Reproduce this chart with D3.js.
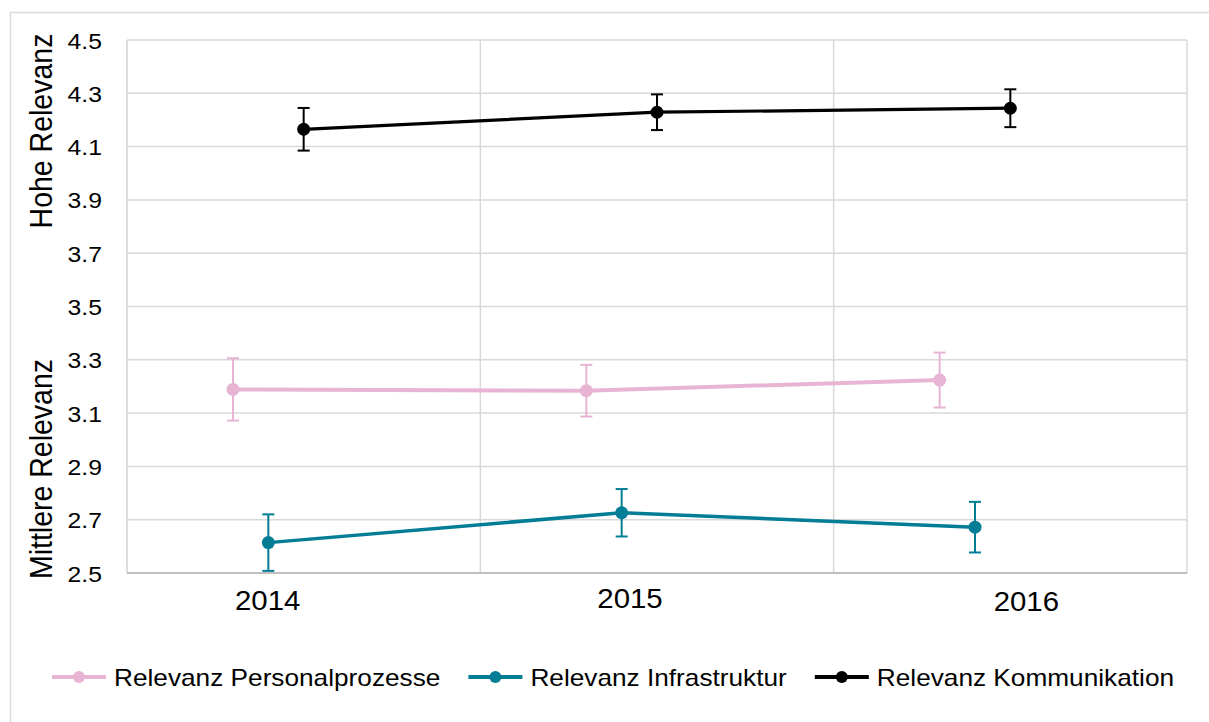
<!DOCTYPE html>
<html>
<head>
<meta charset="utf-8">
<script src="https://cdn.jsdelivr.net/npm/d3@7"></script>
<style>
  html, body { margin: 0; padding: 0; background: #fff; }
  svg { display: block; font-family: "Liberation Sans", Arial, sans-serif; }
</style>
</head>
<body>
<svg id="chart" width="1209" height="722"></svg>
<script>
// ---- data ----
const years = ["2014", "2015", "2016"];
const yTicks = [2.5, 2.7, 2.9, 3.1, 3.3, 3.5, 3.7, 3.9, 4.1, 4.3, 4.5];
const seriesNames = ["Relevanz Personalprozesse", "Relevanz Infrastruktur", "Relevanz Kommunikation"];
const personalValues = [3.189, 3.184, 3.224];
const personalErrors = [0.117, 0.097, 0.103];
const infraValues = [2.614, 2.726, 2.672];
const infraErrors = [0.106, 0.089, 0.095];
const kommValues = [4.165, 4.229, 4.244];
const kommErrors = [0.08, 0.067, 0.071];
const axisTitles = ["Hohe Relevanz", "Mittlere Relevanz"];

// ---- styling / layout ----
const colors = ["#e8b4d4", "#037c95", "#000000"];
const lineWidths = [4, 3.5, 3.2];
const seriesShift = [-0.2, -0.1, 0];          // fraction of band width
const labelShift = [-36, -27, 16];             // x label offsets (px) from band centre
const labelDy = [0, -2, 1];
const titleCentres = [131, 469];               // y-centres (px) of the two axis titles
const plot = { left: 127, right: 1187, top: 40, bottom: 573 };

const series = [
  { name: seriesNames[0], values: personalValues, errors: personalErrors },
  { name: seriesNames[1], values: infraValues, errors: infraErrors },
  { name: seriesNames[2], values: kommValues, errors: kommErrors }
];

const svg = d3.select("#chart");

// outer frame
svg.append("rect").attr("x", 10.5).attr("y", 12.5).attr("width", 1400).attr("height", 900)
  .attr("fill", "none").attr("stroke", "#d9d9d9").attr("stroke-width", 1.5);

const x = d3.scaleBand().domain(years).range([plot.left, plot.right]).paddingInner(0).paddingOuter(0);
const y = d3.scaleLinear().domain([2.5, 4.5]).range([plot.bottom, plot.top]);

// horizontal gridlines
svg.append("g").selectAll("line").data(yTicks.filter(t => t > 2.5)).join("line")
  .attr("x1", plot.left).attr("x2", plot.right)
  .attr("y1", d => y(d)).attr("y2", d => y(d))
  .attr("stroke", "#d9d9d9").attr("stroke-width", 1.5);

// vertical gridlines at band boundaries
svg.append("g").selectAll("line").data(years).join("line")
  .attr("x1", d => x(d) + x.bandwidth()).attr("x2", d => x(d) + x.bandwidth())
  .attr("y1", plot.top).attr("y2", plot.bottom)
  .attr("stroke", "#d9d9d9").attr("stroke-width", 1.5);

// left axis line
svg.append("line").attr("x1", plot.left).attr("x2", plot.left)
  .attr("y1", plot.top).attr("y2", plot.bottom)
  .attr("stroke", "#d0d0d0").attr("stroke-width", 1.5);

// bottom axis line
svg.append("line").attr("x1", plot.left).attr("x2", plot.right)
  .attr("y1", plot.bottom).attr("y2", plot.bottom)
  .attr("stroke", "#bfbfbf").attr("stroke-width", 2);

// y tick labels
svg.append("g").selectAll("g").data(yTicks).join("g")
  .attr("transform", d => `translate(102,${y(d) + 8.5})`)
  .append("text")
  .attr("text-anchor", "end")
  .attr("transform", "scale(1.1,1)")
  .attr("font-size", 22.5).attr("fill", "#000")
  .text(d => d.toFixed(1));

// x labels
svg.append("g").selectAll("g").data(years).join("g")
  .attr("transform", (d, i) => `translate(${x(d) + x.bandwidth() / 2 + labelShift[i]},${610 + labelDy[i]})`)
  .append("text")
  .attr("text-anchor", "middle")
  .attr("transform", "scale(1.05,1)")
  .attr("font-size", 28).attr("fill", "#000")
  .text(d => d);

// y axis titles
axisTitles.forEach((t, i) => {
  svg.append("g")
    .attr("transform", `translate(52,${titleCentres[i]}) rotate(-90)`)
    .append("text")
    .attr("transform", "scale(1,1.08)")
    .attr("text-anchor", "middle").attr("font-size", 28.5).attr("fill", "#000")
    .text(t);
});

// series
const px = (si, i) => x(years[i]) + x.bandwidth() / 2 + seriesShift[si] * x.bandwidth();
const line = d3.line();

series.forEach((s, si) => {
  const g = svg.append("g");
  const pts = s.values.map((v, i) => [px(si, i), y(v)]);
  g.append("path").attr("d", line(pts)).attr("fill", "none")
    .attr("stroke", colors[si]).attr("stroke-width", lineWidths[si]).attr("stroke-linejoin", "round");
  s.values.forEach((v, i) => {
    const cx = px(si, i);
    const top = y(v + s.errors[i]), bot = y(v - s.errors[i]);
    g.append("line").attr("x1", cx).attr("x2", cx).attr("y1", top).attr("y2", bot)
      .attr("stroke", colors[si]).attr("stroke-width", 2);
    [top, bot].forEach(yy => g.append("line").attr("x1", cx - 6).attr("x2", cx + 6)
      .attr("y1", yy).attr("y2", yy).attr("stroke", colors[si]).attr("stroke-width", 2));
    g.append("circle").attr("cx", cx).attr("cy", y(v)).attr("r", 6.5).attr("fill", colors[si]);
  });
});

// legend
const legend = svg.append("g");
let lx = 52;
const ly = 677;
const legendScale = 1.14;
series.forEach((s, si) => {
  const item = legend.append("g").attr("transform", `translate(${lx},${ly})`);
  item.append("line").attr("x1", 0).attr("x2", 54).attr("y1", 0).attr("y2", 0)
    .attr("stroke", colors[si]).attr("stroke-width", 4);
  item.append("circle").attr("cx", 27).attr("cy", 0).attr("r", 6).attr("fill", colors[si]);
  const tg = item.append("g").attr("transform", `translate(62,9)`);
  const t = tg.append("text").attr("font-size", 23).attr("fill", "#000")
    .attr("transform", `scale(${legendScale},1)`).text(s.name);
  const w = t.node().getComputedTextLength() * legendScale;
  lx += 62 + w + 28;
});
</script>
</body>
</html>
